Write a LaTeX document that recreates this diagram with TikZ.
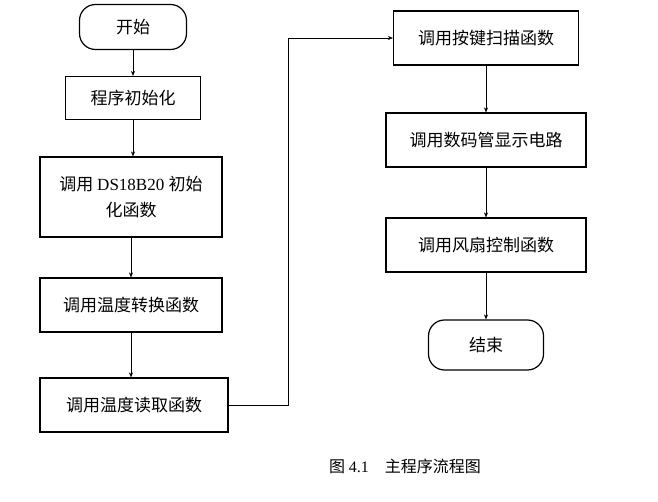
\documentclass[tikz,border=0pt]{standalone}
\usepackage{fontspec}
\setmainfont{Liberation Serif}
\newfontfamily\cjk{Noto Sans CJK SC}
\usetikzlibrary{arrows.meta}
\tikzset{
  stepbox/.style={draw,line width=1.2pt,font=\cjk\fontsize{17}{26}\selectfont,align=center,inner sep=2pt},
  endbox/.style={stepbox,rounded corners=16pt},
  flow/.style={-{Stealth[length=5pt,width=4pt]},line width=0.5pt}
}
\begin{document}
\begin{tikzpicture}[x=1pt,y=-1pt]
  \useasboundingbox (0,0) rectangle (658,502);
  % left column
  \node[endbox,minimum width=107pt,minimum height=45pt] (start) at (133,27) {开始};
  \node[stepbox,minimum width=135pt,minimum height=43pt] (init) at (133,98) {程序初始化};
  \node[stepbox,minimum width=182pt,minimum height=80pt] (ds) at (131,197) {调用 \rmfamily DS18B20 \cjk 初始\\化函数};
  \node[stepbox,minimum width=182pt,minimum height=54pt] (conv) at (131,305) {调用温度转换函数};
  \node[stepbox,minimum width=188pt,minimum height=54pt] (read) at (134,405) {调用温度读取函数};
  % right column
  \node[stepbox,minimum width=185pt,minimum height=54pt] (key) at (486,38) {调用按键扫描函数};
  \node[stepbox,minimum width=200pt,minimum height=54pt] (disp) at (486,140) {调用数码管显示电路};
  \node[stepbox,minimum width=200pt,minimum height=54pt] (fan) at (486,245) {调用风扇控制函数};
  \node[endbox,minimum width=115pt,minimum height=50pt] (stop) at (486,345) {结束};
  \node[font=\cjk\fontsize{16}{20}\selectfont] (cap) at (405,466) {图 \rmfamily 4.1\cjk \quad 主程序流程图};
  % connectors
  \draw[flow] (start) -- (init);
  \draw[flow] (init) -- (init |- ds.north);
  \draw[flow] (ds) -- (conv);
  \draw[flow] (conv) -- (conv |- read.north);
  \draw[flow] (read.east) -- ++(60,0) |- (key.west);
  \draw[flow] (key) -- (disp);
  \draw[flow] (disp) -- (fan);
  \draw[flow] (fan) -- (stop);
\end{tikzpicture}
\end{document}
